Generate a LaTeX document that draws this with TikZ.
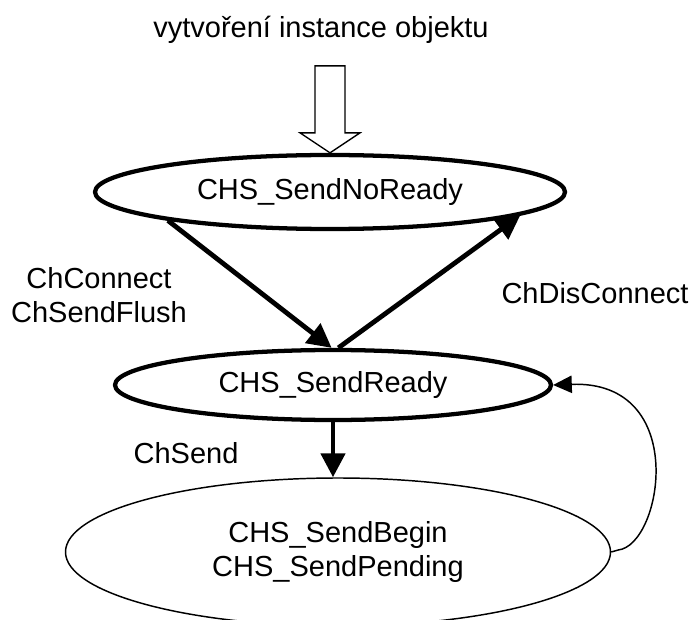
\documentclass[tikz,border=0pt]{standalone}
\usepackage{fontspec}
\setmainfont{Liberation Sans}
\usetikzlibrary{shapes.geometric,arrows.meta}
\tikzset{
  state/.style={draw, ellipse, inner sep=0pt, line width=3.2pt, align=center},
  bigtip/.style={-{Triangle[length=18pt,width=18pt]}, line width=3.6pt},
  lbl/.style={align=center}
}
\begin{document}
\begin{tikzpicture}[x=0.75pt, y=-0.75pt,
                    every node/.style={font=\fontsize{21.75pt}{25.5pt}\selectfont}]
                    \useasboundingbox (0,0) rectangle (693,620);
                    % Stavy
                    \node[state, minimum width=352.5pt, minimum height=55.5pt]
                       (noready) at (330,192) {CHS\_SendNoReady};
                    \node[state, minimum width=327pt, minimum height=52.5pt]
                       (ready) at (333,385) {CHS\_SendReady};
                    \node[state, line width=1.1pt, minimum width=408.75pt, minimum height=111pt]
                       (pending) at (338,552) {CHS\_SendBegin\\CHS\_SendPending};
                    % Popisky
                    \node (create) at (321,30) {vytvoření instance objektu};
                    \node[lbl] (connect) at (99,295) {ChConnect\\ChSendFlush};
                    \node (disconnect) at (595,293) {ChDisConnect};
                    \node (send) at (186,453) {ChSend};
                    % Vytvoreni objektu
                    \draw[line width=1pt, fill=white, shift={(noready.north)}]
                       (-15,-87)
                    -- (15,-87)
                    -- (15,-20)
                    -- (30,-20)
                    -- (0,0)
                    -- (-30,-20)
                    -- (-15,-20)
                    -- cycle;
                    % Prechody
                    \draw[bigtip] (noready.190) -- ([xshift=-1pt]ready.north);
                    \draw[bigtip] ([xshift=4pt]ready.north) -- (noready.353.5);
                    \draw[bigtip] (ready.south) -- (ready.south |- pending.north);
                    \draw[-{Triangle[length=14pt,width=13pt]}, line width=1.1pt]
                       (pending.east) -- ++(7,-2)
                    .. controls +(44,-5) and +(137,-5) .. (ready.east);
                \end{tikzpicture}
\end{document}
